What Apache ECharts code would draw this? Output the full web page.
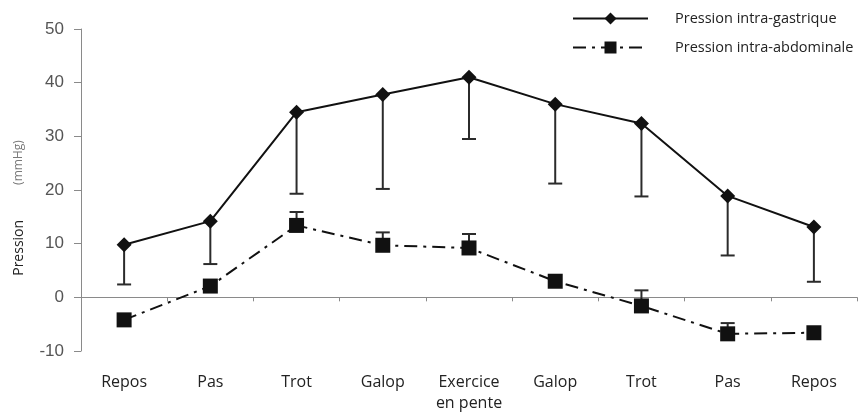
<!DOCTYPE html>
<html>
<head>
<meta charset="utf-8">
<script src="https://cdn.jsdelivr.net/npm/echarts@6/dist/echarts.min.js"></script>
<style>
  html, body { margin: 0; padding: 0; background: #fff; }
  #chart { width: 862px; height: 414px; }
</style>
</head>
<body>
<div id="chart"></div>
<script>
// Exercise phases
var categories = ['Repos', 'Pas', 'Trot', 'Galop', 'Exercice\nen pente', 'Galop', 'Trot', 'Pas', 'Repos'];

// Intra-gastric pressure (mmHg): mean and lower end of the error bar
var gastricMean = [9.8, 14.2, 34.5, 37.8, 41.0, 36.0, 32.4, 18.9, 13.1];
var gastricLow  = [2.4, 6.2, 19.3, 20.2, 29.5, 21.2, 18.8, 7.8, 2.9];

// Intra-abdominal pressure (mmHg): mean and upper end of the error bar
var abdoMean = [-4.2, 2.1, 13.4, 9.7, 9.2, 3.0, -1.6, -6.8, -6.6];
var abdoHigh = [null, null, 15.9, 12.1, 11.8, null, 1.3, -4.8, null];

var yTicks = { min: -10, max: 50, interval: 10 };

var seriesNames = ['Pression intra-gastrique', 'Pression intra-abdominale'];

function errorBarData(mean, bound) {
  var out = [];
  for (var i = 0; i < mean.length; i++) {
    if (bound[i] !== null) out.push([i, mean[i], bound[i]]);
  }
  return out;
}

function renderErrorBar(params, api) {
  var p0 = api.coord([api.value(0), api.value(1)]);
  var p1 = api.coord([api.value(0), api.value(2)]);
  var half = 7;
  var style = { stroke: '#2b2b2b', lineWidth: 2 };
  return {
    type: 'group',
    children: [
      { type: 'line', shape: { x1: p0[0], y1: p0[1], x2: p1[0], y2: p1[1] }, style: style },
      { type: 'line', shape: { x1: p1[0] - half, y1: p1[1], x2: p1[0] + half, y2: p1[1] }, style: style }
    ]
  };
}

var chart = echarts.init(document.getElementById('chart'), null, { renderer: 'canvas' });

chart.setOption({
  animation: false,
  backgroundColor: '#ffffff',
  grid: { left: 81, right: 5, top: 29, bottom: 63 },
  legend: {
    orient: 'vertical',
    left: 567,
    top: 6,
    itemWidth: 75,
    itemHeight: 15,
    itemGap: 14,
    data: seriesNames,
    textStyle: { fontFamily: 'Open Sans', fontSize: 14.5, color: '#222', padding: [0, 0, 0, 22] }
  },
  xAxis: {
    type: 'category',
    data: categories,
    boundaryGap: true,
    axisLine: { lineStyle: { color: '#8a8a8a', width: 1 } },
    axisTick: { show: true, length: 4, lineStyle: { color: '#8a8a8a' } },
    axisLabel: {
      interval: 0,
      margin: 21,
      fontFamily: 'Open Sans',
      fontSize: 16,
      lineHeight: 21,
      color: '#222'
    },
    splitLine: { show: false }
  },
  yAxis: {
    type: 'value',
    min: yTicks.min,
    max: yTicks.max,
    interval: yTicks.interval,
    axisLine: { show: true, lineStyle: { color: '#8a8a8a', width: 1 } },
    axisTick: { show: true, length: 7, lineStyle: { color: '#8a8a8a' } },
    axisLabel: {
      margin: 17,
      fontFamily: 'Liberation Sans',
      fontSize: 17,
      color: '#555'
    },
    splitLine: { show: false },
    name: '{a|Pression}{b|(mmHg)}',
    nameLocation: 'middle',
    nameGap: 55,
    nameTextStyle: {
      rich: {
        a: { fontFamily: 'Open Sans', fontSize: 14, color: '#222' },
        b: { fontFamily: 'Open Sans', fontSize: 12, color: '#7a7a7a', padding: [0, 36, 0, 35] }
      }
    }
  },
  series: [
    {
      name: seriesNames[0],
      type: 'line',
      data: gastricMean,
      symbol: 'diamond',
      symbolSize: 15,
      itemStyle: { color: '#111' },
      lineStyle: { color: '#111', width: 2 },
      z: 5
    },
    {
      name: seriesNames[1],
      type: 'line',
      data: abdoMean,
      symbol: 'rect',
      symbolSize: 15,
      itemStyle: { color: '#111' },
      lineStyle: { color: '#111', width: 2, type: [13, 6, 3, 6] },
      z: 5
    },
    {
      type: 'custom',
      data: errorBarData(gastricMean, gastricLow),
      renderItem: renderErrorBar,
      encode: { x: 0, y: [1, 2] },
      z: 3,
      silent: true
    },
    {
      type: 'custom',
      data: errorBarData(abdoMean, abdoHigh),
      renderItem: renderErrorBar,
      encode: { x: 0, y: [1, 2] },
      z: 3,
      silent: true
    }
  ]
});
</script>
</body>
</html>
